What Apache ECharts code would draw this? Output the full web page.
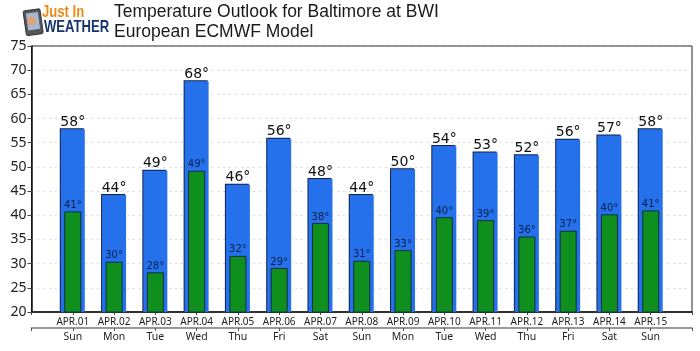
<!DOCTYPE html>
<html>
<head>
<meta charset="utf-8">
<title>Temperature Outlook for Baltimore at BWI</title>
<script src="https://cdn.jsdelivr.net/npm/echarts@6/dist/echarts.min.js"></script>
<style>
  html, body { margin: 0; padding: 0; background: #fff; }
  #chart { width: 700px; height: 351px; }
</style>
</head>
<body>
<div id="chart"></div>
<script>
// values
const dates = ['APR.01', 'APR.02', 'APR.03', 'APR.04', 'APR.05', 'APR.06', 'APR.07', 'APR.08', 'APR.09', 'APR.10', 'APR.11', 'APR.12', 'APR.13', 'APR.14', 'APR.15']
const days = ['Sun', 'Mon', 'Tue', 'Wed', 'Thu', 'Fri', 'Sat', 'Sun', 'Mon', 'Tue', 'Wed', 'Thu', 'Fri', 'Sat', 'Sun']
const highs = [57.8, 44.2, 49.2, 67.7, 46.3, 55.8, 47.5, 44.2, 49.5, 54.3, 53.0, 52.4, 55.6, 56.5, 57.8]
const lows = [40.8, 30.4, 28.2, 49.2, 31.6, 29.1, 38.4, 30.6, 32.8, 39.6, 39.0, 35.6, 36.8, 40.2, 41.0]

// the axis has an empty slot on each side of the 15 days
const pad = (list, blank) => [blank, ...list, blank]
const degree = (p) => Math.round(p.value) + '°'

const chart = echarts.init(document.getElementById('chart'))

const option = {
  animation: false,
  backgroundColor: '#fff',
  title: {
    text: 'Temperature Outlook for Baltimore at BWI\nEuropean ECMWF Model',
    left: 114,
    top: 2,
    padding: 0,
    textStyle: {
      fontFamily: 'Liberation Sans',
      fontSize: 17.5,
      fontWeight: 'normal',
      lineHeight: 20,
      color: '#1a1a1a'
    }
  },
  grid: {
    left: 31.5,
    right: 8,
    top: 46,
    height: 266,
    show: true,
    borderColor: '#222',
    borderWidth: 1,
    backgroundColor: 'transparent'
  },
  xAxis: [
    {
      type: 'category',
      data: pad(dates, ''),
      boundaryGap: false,
      axisLine: { lineStyle: { color: '#111', width: 1.5 } },
      axisTick: { alignWithLabel: true, length: 3, interval: 0, lineStyle: { color: '#444' } },
      axisLabel: {
        interval: 0,
        margin: 5,
        fontFamily: 'Noto Sans',
        fontSize: 10,
        color: '#222'
      },
      splitLine: { show: false }
    },
    {
      type: 'category',
      data: pad(days, ''),
      position: 'bottom',
      offset: 16,
      boundaryGap: false,
      axisLine: { onZero: false, lineStyle: { color: '#777', width: 1.5 } },
      axisTick: { length: 3, interval: 0, lineStyle: { color: '#555' } },
      axisLabel: {
        interval: 0,
        margin: 4,
        fontFamily: 'Noto Sans',
        fontSize: 10.5,
        color: '#222'
      },
      splitLine: { show: false }
    }
  ],
  yAxis: {
    type: 'value',
    min: 20,
    max: 75,
    interval: 5,
    axisLine: { show: true, lineStyle: { color: '#111', width: 1.5 } },
    axisTick: { show: true, length: 4, lineStyle: { color: '#444' } },
    axisLabel: {
      margin: 5,
      fontFamily: 'Noto Sans',
      fontSize: 14,
      color: '#222'
    },
    splitLine: { lineStyle: { type: [1, 5], color: '#b5b5b5', width: 1 } }
  },
  series: [
    {
      name: 'High',
      type: 'bar',
      xAxisIndex: 0,
      barWidth: 24,
      data: pad(highs, '-'),
      itemStyle: {
        color: '#2571ec',
        shadowColor: '#10224a',
        shadowOffsetX: -1,
        shadowOffsetY: -1,
        shadowBlur: 0
      },
      label: {
        show: true,
        position: 'top',
        distance: 0,
        formatter: degree,
        fontFamily: 'DejaVu Sans',
        fontSize: 14,
        color: '#111'
      }
    },
    {
      name: 'Low',
      type: 'bar',
      xAxisIndex: 1,
      barWidth: 17,
      data: pad(lows, '-'),
      z: 3,
      itemStyle: {
        color: '#0f8f1e',
        borderColor: '#0c2f3a',
        borderWidth: 1
      },
      label: {
        show: true,
        position: 'top',
        distance: 1,
        formatter: degree,
        fontFamily: 'DejaVu Sans',
        fontSize: 10,
        color: '#0a1f4a'
      }
    }
  ],
  // site logo, top left
  graphic: [
    {
      type: 'group',
      x: 23,
      y: 11,
      rotation: 0.14,
      children: [
        { type: 'rect', shape: { x: 0, y: 0, width: 17, height: 25, r: 2 }, style: { fill: '#55565c', stroke: '#33343a', lineWidth: 1 } },
        { type: 'rect', shape: { x: 2.5, y: 3, width: 12, height: 17 }, style: { fill: '#a9b7cf' } },
        { type: 'circle', shape: { cx: 7, cy: 11, r: 4 }, style: { fill: '#e5a06c' } }
      ]
    },
    {
      type: 'text',
      x: 42,
      y: 5,
      scaleX: 0.82,
      style: { text: 'Just In', fontFamily: 'Liberation Sans', fontSize: 16, fontWeight: 'bold', fill: '#ec8a1c' }
    },
    {
      type: 'text',
      x: 44,
      y: 19,
      scaleX: 0.77,
      style: { text: 'WEATHER', fontFamily: 'Liberation Sans', fontSize: 17, fontWeight: 'bold', fill: '#17356f' }
    }
  ]
}

chart.setOption(option)
</script>
</body>
</html>
